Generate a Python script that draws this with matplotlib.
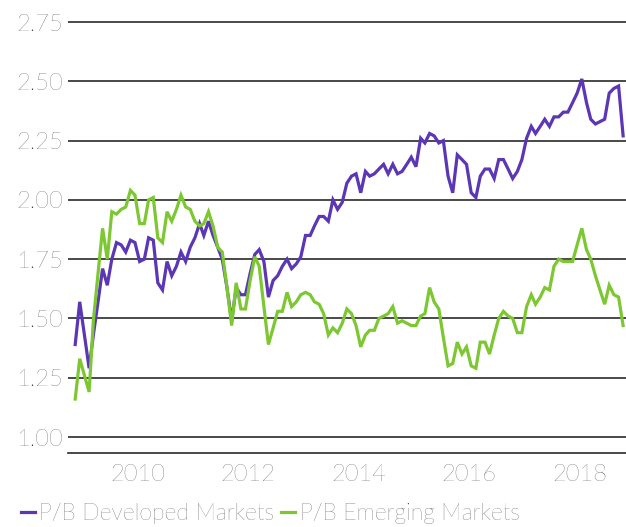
import numpy as np
import pandas as pd
import matplotlib
matplotlib.use("Agg")
import matplotlib.pyplot as plt
import matplotlib.dates as mdates

# monthly price-to-book, Nov 2008 .. Oct 2018
dates = pd.date_range("2008-11-01", periods=120, freq="MS") + pd.Timedelta(days=14)

pb_developed = [
    1.39, 1.57, 1.43, 1.29, 1.43, 1.57, 1.71, 1.64, 1.75, 1.82,
    1.81, 1.78, 1.83, 1.82, 1.74, 1.75, 1.84, 1.83, 1.65, 1.62,
    1.74, 1.68, 1.72, 1.78, 1.74, 1.80, 1.84, 1.90, 1.85, 1.91,
    1.85, 1.80, 1.75, 1.63, 1.49, 1.63, 1.60, 1.60, 1.69, 1.77,
    1.79, 1.74, 1.59, 1.66, 1.68, 1.72, 1.75, 1.71, 1.73, 1.76,
    1.85, 1.85, 1.89, 1.93, 1.93, 1.91, 2.00, 1.96, 1.99, 2.07,
    2.10, 2.11, 2.03, 2.12, 2.10, 2.11, 2.13, 2.15, 2.11, 2.15,
    2.11, 2.12, 2.15, 2.18, 2.14, 2.26, 2.24, 2.28, 2.27, 2.24,
    2.25, 2.10, 2.03, 2.19, 2.17, 2.15, 2.03, 2.01, 2.10, 2.13,
    2.13, 2.09, 2.17, 2.17, 2.13, 2.09, 2.12, 2.17, 2.26, 2.31,
    2.28, 2.31, 2.34, 2.31, 2.35, 2.35, 2.37, 2.37, 2.41, 2.45,
    2.51, 2.41, 2.34, 2.32, 2.33, 2.34, 2.45, 2.47, 2.48, 2.27,
]

pb_emerging = [
    1.16, 1.33, 1.26, 1.19, 1.49, 1.69, 1.88, 1.75, 1.95, 1.94,
    1.96, 1.97, 2.04, 2.02, 1.90, 1.90, 2.00, 2.01, 1.84, 1.82,
    1.95, 1.91, 1.96, 2.02, 1.97, 1.96, 1.91, 1.89, 1.90, 1.95,
    1.89, 1.80, 1.78, 1.63, 1.47, 1.65, 1.54, 1.54, 1.66, 1.76,
    1.72, 1.55, 1.39, 1.46, 1.53, 1.53, 1.61, 1.55, 1.57, 1.60,
    1.61, 1.60, 1.57, 1.56, 1.52, 1.43, 1.46, 1.44, 1.48, 1.54,
    1.52, 1.47, 1.38, 1.43, 1.45, 1.45, 1.50, 1.51, 1.52, 1.55,
    1.48, 1.49, 1.48, 1.47, 1.47, 1.51, 1.52, 1.63, 1.57, 1.54,
    1.42, 1.30, 1.31, 1.40, 1.35, 1.38, 1.30, 1.29, 1.40, 1.40,
    1.35, 1.43, 1.50, 1.53, 1.51, 1.50, 1.44, 1.44, 1.55, 1.60,
    1.56, 1.59, 1.63, 1.62, 1.72, 1.75, 1.74, 1.74, 1.74, 1.81,
    1.88, 1.79, 1.75, 1.68, 1.62, 1.56, 1.64, 1.60, 1.59, 1.47,
]

series_labels = ["P/B Developed Markets", "P/B Emerging Markets"]
colors = ["#5B36B5", "#7DC832"]
y_ticks = [1.00, 1.25, 1.50, 1.75, 2.00, 2.25, 2.50, 2.75]
x_years = [2010, 2012, 2014, 2016, 2018]

plt.rcParams["font.family"] = ["Lato", "DejaVu Sans"]
plt.rcParams["font.weight"] = "light"

fig = plt.figure(figsize=(6.26, 5.27), dpi=100)
ax = fig.add_axes([0.109, 0.1404, 0.891, 0.8313])

for vals, lab, col in zip([pb_developed, pb_emerging], series_labels, colors):
    ax.plot(dates, vals, color=col, lw=2.3, label=lab, solid_joinstyle="miter")

ax.set_ylim(0.9325, 2.78)
ax.set_xlim(pd.Timestamp("2008-09-30"), pd.Timestamp("2018-11-03"))
ax.set_yticks(y_ticks)
ax.set_yticklabels([f"{t:.2f}" for t in y_ticks])
ax.set_xticks([pd.Timestamp(f"{y}-01-01") for y in x_years])
ax.xaxis.set_major_formatter(mdates.DateFormatter("%Y"))

ax.grid(axis="y", color="#2a2a2a", lw=1.2)
ax.set_axisbelow(True)
for s in ["top", "right", "left"]:
    ax.spines[s].set_visible(False)
ax.spines["bottom"].set_color("#2a2a2a")
ax.spines["bottom"].set_linewidth(1.2)

ax.tick_params(axis="both", length=0, labelsize=17, labelcolor="#333333")
ax.tick_params(axis="y", pad=4)
ax.tick_params(axis="x", pad=8)

leg = fig.legend(loc="lower left", bbox_to_anchor=(0.0, -0.034), ncol=2,
                 frameon=False, handlelength=0.6, handletextpad=0.2,
                 columnspacing=0.3, fontsize=16.6, labelcolor="#333333")

fig.savefig("out.png", dpi=100)
